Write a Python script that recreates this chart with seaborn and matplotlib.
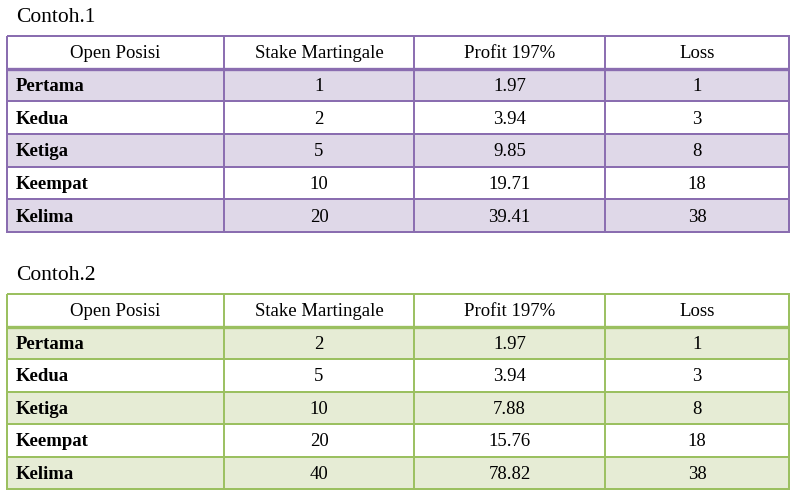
import numpy as np
import pandas as pd
import matplotlib.pyplot as plt
from matplotlib.colors import ListedColormap
import seaborn as sns

# data
header = ['Open Posisi', 'Stake Martingale', 'Profit 197%', 'Loss']
posisi = ['Pertama', 'Kedua', 'Ketiga', 'Keempat', 'Kelima']
stake_1 = [1, 2, 5, 10, 20]
profit_1 = ['1.97', '3.94', '9.85', '19.71', '39.41']
loss_1 = [1, 3, 8, 18, 38]
stake_2 = [2, 5, 10, 20, 40]
profit_2 = ['1.97', '3.94', '7.88', '15.76', '78.82']
loss_2 = [1, 3, 8, 18, 38]

W, H = 801, 503
col_px = [7, 224, 414, 605, 789]
col_edges = [(c - col_px[0]) / (col_px[-1] - col_px[0]) for c in col_px]
FS = 13.5


def gambar_tabel(fig, top, bottom, judul, stake, profit, loss, garis, isi):
    ax = fig.add_axes([col_px[0] / W, 1 - bottom / H,
                       (col_px[-1] - col_px[0]) / W, (bottom - top) / H])
    # header putih, baris ganjil berwarna
    shade = pd.DataFrame({'band': [0] + [1 - i % 2 for i in range(len(posisi))]})
    sns.heatmap(shade, ax=ax, cmap=ListedColormap(['white', isi]), vmin=0, vmax=1,
                cbar=False, linewidths=1.4, linecolor=garis,
                xticklabels=False, yticklabels=False)
    ax.collections[0].set_clip_on(False)
    ax.set_xlim(0, 1)
    ax.set_ylim(len(posisi) + 1, 0)
    ax.vlines(col_edges[1:-1], 0, len(posisi) + 1, color=garis, lw=1.4)
    ax.hlines(1, 0, 1, color=garis, lw=2.4, clip_on=False)
    ax.set_xlabel('')
    ax.set_ylabel('')

    kw = dict(va='center', fontsize=FS, color='black')
    centers = [(a + b) / 2 for a, b in zip(col_edges[:-1], col_edges[1:])]
    for j, h in enumerate(header):
        ax.text(centers[j], 0.55, h, ha='center', **kw)
    for i, nama in enumerate(posisi):
        y = i + 1.55
        ax.text(9 / (col_px[-1] - col_px[0]), y, nama, ha='left', fontweight='bold', **kw)
        ax.text(centers[1], y, str(stake[i]), ha='center', **kw)
        ax.text(centers[2], y, profit[i], ha='center', **kw)
        ax.text(centers[3], y, str(loss[i]), ha='center', **kw)

    fig.text(16 / W, 1 - (top - 18) / H, judul, ha='left', va='center',
             fontsize=15.5, color='black')
    return ax


sns.set_theme(style='white')
plt.rcParams['font.family'] = ['Liberation Serif', 'DejaVu Serif']

fig = plt.figure(figsize=(8.01, 5.03), dpi=100)
gambar_tabel(fig, 36, 232, 'Contoh.1', stake_1, profit_1, loss_1, '#8A6DB0', '#DFD8E8')
gambar_tabel(fig, 294, 489, 'Contoh.2', stake_2, profit_2, loss_2, '#9BC060', '#E6ECD5')

plt.savefig('out.png', dpi=100)
